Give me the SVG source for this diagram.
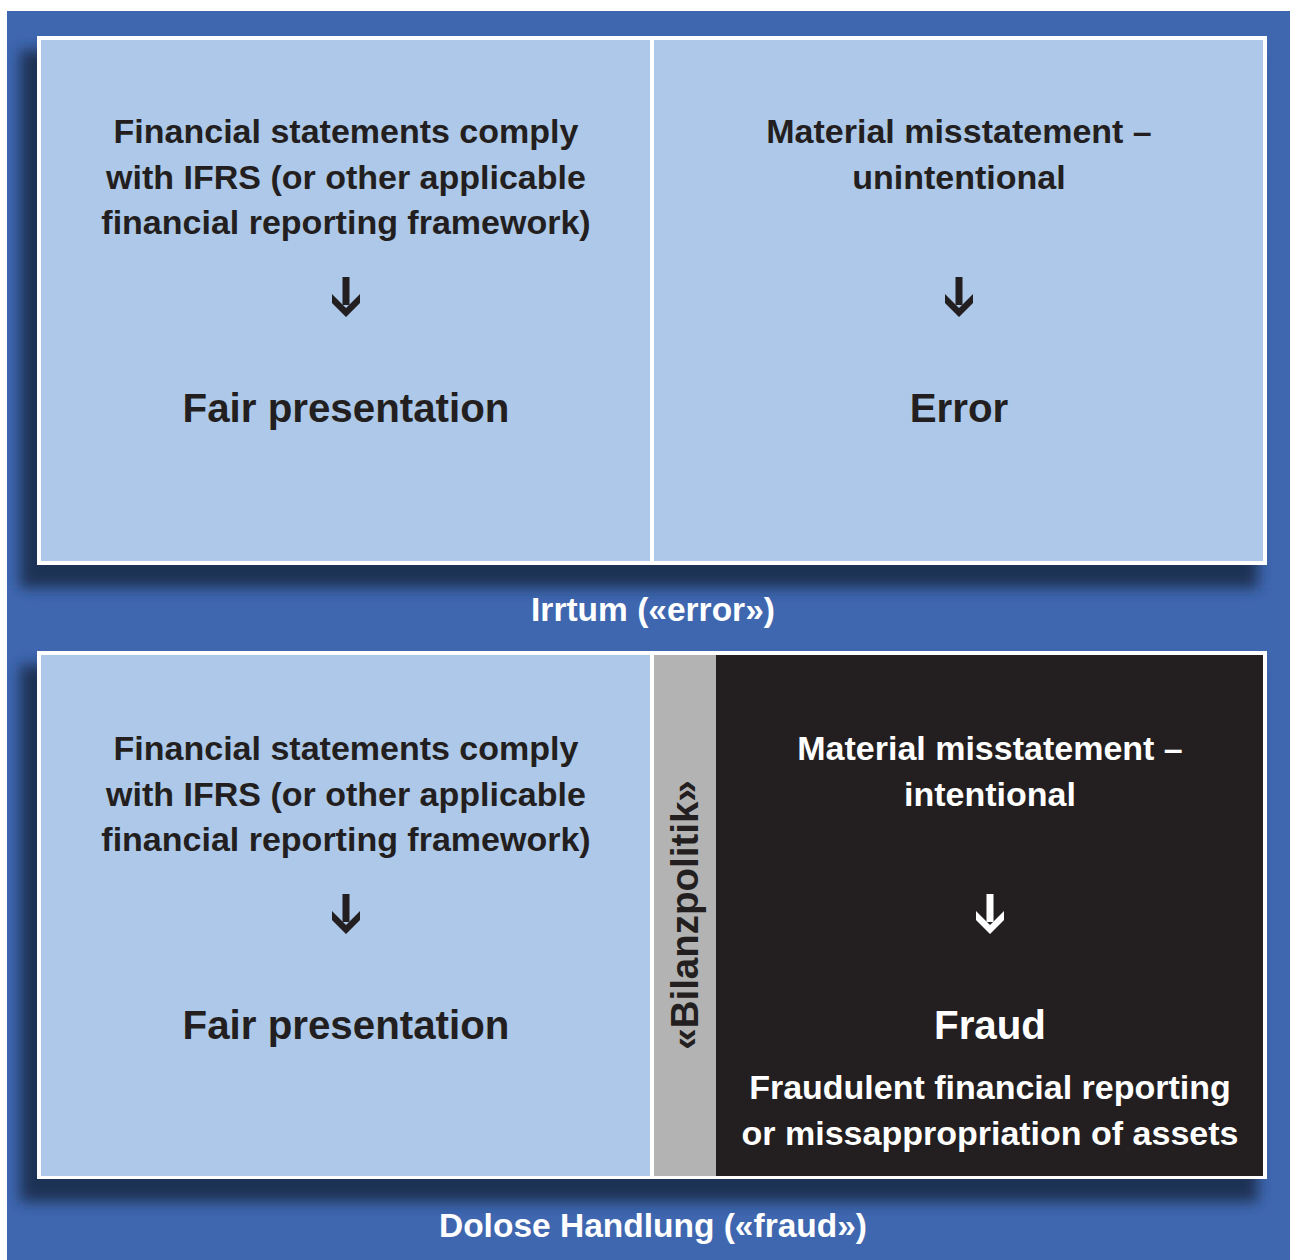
<svg xmlns="http://www.w3.org/2000/svg" width="1290" height="1260" viewBox="0 0 1290 1260">
<defs>
<filter id="blur" x="-10%" y="-10%" width="120%" height="120%"><feGaussianBlur stdDeviation="7"/></filter>
<g id="arrow"><rect x="-3.5" y="0" width="7" height="28"/><polygon points="-14,17 0,31 14,17 14,26 0,40 -14,26"/></g>
<style>
.t{font-family:"Liberation Sans",Arial,sans-serif;font-weight:bold;text-anchor:middle}
.d{fill:#231f20}
.w{fill:#ffffff}
.m{font-size:34px}
.l{font-size:33.5px}
.b{font-size:40.3px}
</style>
</defs>
<rect x="7" y="11" width="1283" height="1249" fill="#3f67b0"/>
<g id="shadows" fill="#1f3254">
<rect x="20" y="50" width="1238" height="538" filter="url(#blur)"/>
<rect x="20" y="665" width="1238" height="537" filter="url(#blur)"/>
</g>
<g id="top-panel">
<rect x="37" y="36" width="1230" height="529" fill="#ffffff"/>
<g id="node-fair-1">
<rect x="41" y="40" width="609" height="521" fill="#adc8e8"/>
<text class="t d m" x="346" y="143">Financial statements comply</text>
<text class="t d m" x="346" y="189">with IFRS (or other applicable</text>
<text class="t d m" x="346" y="234">financial reporting framework)</text>
<use href="#arrow" x="346" y="277" class="d"/>
<text class="t d b" x="346" y="422">Fair presentation</text>
</g>
<g id="node-error">
<rect x="654" y="40" width="609" height="521" fill="#adc8e8"/>
<text class="t d m" x="959" y="143">Material misstatement –</text>
<text class="t d m" x="959" y="189">unintentional</text>
<use href="#arrow" x="959" y="277" class="d"/>
<text class="t d b" x="959" y="422">Error</text>
</g>
</g>
<text class="t w l" x="653" y="621">Irrtum («error»)</text>
<g id="bottom-panel">
<rect x="37" y="651" width="1230" height="528" fill="#ffffff"/>
<g id="node-fair-2">
<rect x="41" y="655" width="609" height="521" fill="#adc8e8"/>
<text class="t d m" x="346" y="760">Financial statements comply</text>
<text class="t d m" x="346" y="806">with IFRS (or other applicable</text>
<text class="t d m" x="346" y="851">financial reporting framework)</text>
<use href="#arrow" x="346" y="894" class="d"/>
<text class="t d b" x="346" y="1039">Fair presentation</text>
</g>
<g id="node-bilanzpolitik">
<rect x="654" y="655" width="62" height="521" fill="#b3b3b3"/>
<text class="t d" style="font-size:38.5px" transform="translate(698,915) rotate(-90)">«Bilanzpolitik»</text>
</g>
<g id="node-fraud">
<rect x="716" y="655" width="547" height="521" fill="#231f20"/>
<text class="t w m" x="990" y="760">Material misstatement –</text>
<text class="t w m" x="990" y="806">intentional</text>
<use href="#arrow" x="990" y="894" class="w"/>
<text class="t w b" x="990" y="1039">Fraud</text>
<text class="t w m" x="990" y="1099">Fraudulent financial reporting</text>
<text class="t w m" x="990" y="1145">or missappropriation of assets</text>
</g>
</g>
<text class="t w l" x="653" y="1237">Dolose Handlung («fraud»)</text>
</svg>
